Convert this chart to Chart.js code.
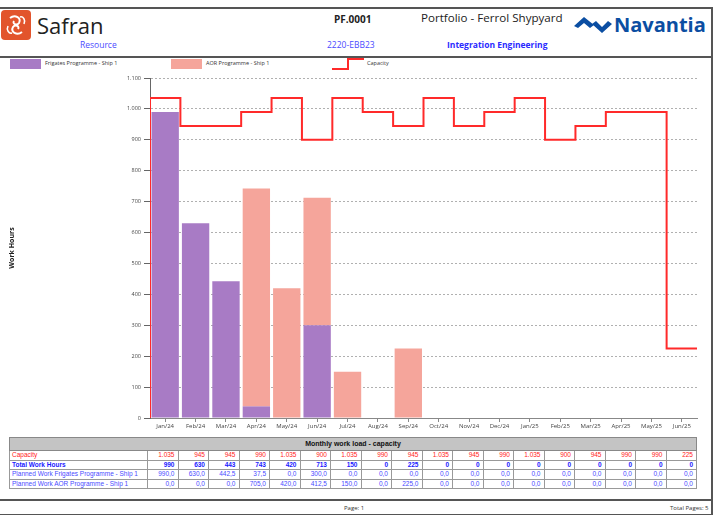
<!DOCTYPE html>
<html>
<head>
<meta charset="utf-8">
<script src="https://cdn.jsdelivr.net/npm/chart.js@4"></script>
<style>
  body { margin: 0; width: 720px; height: 516px; background: #fff; position: relative; overflow: hidden; font-family: "Open Sans", sans-serif; }
  .abs { position: absolute; white-space: nowrap; }
  #header { position: absolute; left: 0; top: 7px; width: 711px; height: 47px; border-top: 2px solid #555; border-bottom: 2px solid #555; border-right: 2px solid #555; }
  #frame { position: absolute; left: 0; top: 56px; width: 711px; height: 443px; border-right: 2px solid #555; border-bottom: 2px solid #555; }
  #footer { position: absolute; left: 0; top: 501px; width: 711px; height: 13px; border-right: 2px solid #555; border-bottom: 1px solid #555; }
  .leg { position: absolute; top: 59px; font-size: 5.5px; color: #333; }
  .sw { position: absolute; width: 31px; height: 10px; }
  #chartBox { position: absolute; left: 0; top: 70px; width: 713px; height: 364px; }
  table { position: absolute; left: 9px; top: 437px; width: 688px; border-collapse: collapse; table-layout: fixed; font-family: "Liberation Sans", Arial, sans-serif; font-size: 6.5px; }
  td { border: 1px solid #999; padding: 0 3px; height: 8.5px; line-height: 8.5px; text-align: right; overflow: hidden; white-space: nowrap; }
  td.lbl { text-align: left; padding-left: 2px; }
  tr.head td { background: #c4c4c4; text-align: center; font-weight: bold; font-size: 7px; color: #111; height: 12px; border-color: #888; }
  tr.cap td { color: #ff1a1a; }
  tr.tot td { color: #1a1aff; font-weight: bold; }
  tr.fr td, tr.aor td { color: #4a4aff; }
</style>
</head>
<body>
<div id="header"></div>
<div id="frame"></div>
<div id="footer"></div>

<svg class="abs" style="left:1px;top:10px" width="30" height="30" viewBox="0 0 30 30">
  <rect x="0" y="0" width="30" height="30" rx="4" fill="#e2542c"/>
  <path d="M9 8 C14 4 21 8 18 13 C16 16 11 14 13 11" stroke="#fff" stroke-width="2" fill="none"/>
  <path d="M21 22 C16 26 9 22 12 17 C14 14 19 16 17 19" stroke="#fff" stroke-width="2" fill="none"/>
  <path d="M7 16 C5 20 8 24 11 23" stroke="#fff" stroke-width="1.6" fill="none"/>
  <path d="M23 14 C25 10 22 6 19 7" stroke="#fff" stroke-width="1.6" fill="none"/>
</svg>
<div class="abs" style="left:37px;top:10px;font-size:22px;color:#222;">Safran</div>
<div class="abs" style="left:80px;top:39px;font-size:8.5px;color:#4b4bff;">Resource</div>
<div class="abs" style="left:334px;top:12px;font-size:10px;font-weight:bold;color:#222;">PF.0001</div>
<div class="abs" style="left:327px;top:39px;font-size:8.5px;color:#4b4bff;">2220-EBB23</div>
<div class="abs" style="left:421px;top:10px;font-size:11.6px;color:#222;">Portfolio - Ferrol Shypyard</div>
<div class="abs" style="left:447px;top:39px;font-size:8.5px;font-weight:bold;color:#2a2aff;">Integration Engineering</div>
<svg class="abs" style="left:573px;top:14px" width="40" height="22" viewBox="0 0 40 22">
  <path d="M1 12 L11 3 L21 11 L17 14 L11 9 L5 14 Z" fill="#0b4ea2"/>
  <path d="M19 10 L29 19 L39 10 L35 7 L29 13 L23 7 Z" fill="#0b4ea2"/>
</svg>
<div class="abs" style="left:614px;top:11px;font-size:20px;font-weight:bold;color:#0b4ea2;">Navantia</div>

<div class="sw" style="left:10px;top:59px;background:#a87bc5;"></div>
<div class="leg" style="left:45px;">Frigates Programme - Ship 1</div>
<div class="sw" style="left:171px;top:59px;background:#f5a59b;"></div>
<div class="leg" style="left:206px;">AOR Programme - Ship 1</div>
<svg class="abs" style="left:332px;top:58px" width="32" height="12" viewBox="0 0 32 12">
  <path d="M0 11 L16 11 L16 1 L32 1" stroke="#ff2a2a" stroke-width="2" fill="none"/>
</svg>
<div class="leg" style="left:367px;">Capacity</div>

<div id="chartBox"><canvas id="workChart"></canvas></div>

<table id="tbl"></table>

<div class="abs" style="left:344px;top:504px;font-size:6px;color:#333;">Page: 1</div>
<div class="abs" style="left:670px;top:504px;font-size:6px;color:#333;">Total Pages: 5</div>

<script>
const months = ['Jan/24','Feb/24','Mar/24','Apr/24','May/24','Jun/24','Jul/24','Aug/24','Sep/24','Oct/24','Nov/24','Dec/24','Jan/25','Feb/25','Mar/25','Apr/25','May/25','Jun/25'];
const frigates = [990, 630, 442.5, 37.5, 0, 300, 0, 0, 0, 0, 0, 0, 0, 0, 0, 0, 0, 0];
const aor = [0, 0, 0, 705, 420, 412.5, 150, 0, 225, 0, 0, 0, 0, 0, 0, 0, 0, 0];
const capacity = [1035, 945, 945, 990, 1035, 900, 1035, 990, 945, 1035, 945, 990, 1035, 900, 945, 990, 990, 225];

function thousands(n) {
  const s = String(Math.round(n));
  return s.length > 3 ? s.slice(0, -3) + '.' + s.slice(-3) : s;
}
function dec1(n) {
  return n.toFixed(1).replace('.', ',');
}

// one linear x axis: month i spans [i, i+1], bars sit in the middle,
// capacity steps run edge to edge like in the report
const atMid = arr => arr.map((v, i) => ({ x: i + 0.5, y: v }));
const capPoints = [{ x: 0, y: 0 }];
capacity.forEach((c, i) => capPoints.push({ x: i, y: c }));
capPoints.push({ x: capacity.length, y: capacity[capacity.length - 1] });

const ctx = document.getElementById('workChart').getContext('2d');
new Chart(ctx, {
  data: {
    datasets: [
      { type: 'bar', label: 'Frigates Programme - Ship 1', data: atMid(frigates), backgroundColor: '#a87bc5',
        barPercentage: 0.9, categoryPercentage: 1, order: 1 },
      { type: 'bar', label: 'AOR Programme - Ship 1', data: atMid(aor), backgroundColor: '#f5a59b',
        barPercentage: 0.9, categoryPercentage: 1, order: 1 },
      { type: 'line', label: 'Capacity', data: capPoints,
        borderColor: '#ff2a2a', borderWidth: 2, stepped: true, pointRadius: 0, fill: false, order: 0 }
    ]
  },
  options: {
    responsive: true,
    maintainAspectRatio: false,
    animation: false,
    layout: { padding: { top: 8, right: 16, left: 0, bottom: 0 } },
    plugins: { legend: { display: false }, tooltip: { enabled: false } },
    scales: {
      x: {
        type: 'linear',
        stacked: true,
        offset: false,
        min: 0, max: months.length,
        afterBuildTicks: s => { s.ticks = months.map((m, i) => ({ value: i + 0.5 })); },
        grid: { drawOnChartArea: false, tickLength: 4, color: '#888', offset: false },
        border: { color: '#888' },
        ticks: { font: { size: 6, family: 'Open Sans' }, color: '#444', maxRotation: 0, padding: 1, autoSkip: false,
          callback: (v, i) => months[i] },
        afterFit: s => { s.height = 16; }
      },
      y: {
        stacked: true,
        min: 0, max: 1100,
        ticks: { stepSize: 100, font: { size: 5.5, family: 'Open Sans' }, color: '#444', padding: 3,
          callback: v => thousands(v) },
        grid: { color: '#b0b0b0', tickLength: 6, tickColor: '#666', tickBorderDash: [] },
        border: { color: '#666', dash: [2, 2] },
        title: { display: true, text: 'Work Hours', font: { size: 7, weight: 'bold', family: 'Open Sans' }, color: '#222', padding: { top: 8, bottom: 0 } },
        afterFit: s => { s.width = 150; }
      }
    }
  }
});

// data table under the chart
const tbl = document.getElementById('tbl');
let html = '<colgroup><col style="width:138px">' + months.map(() => '<col>').join('') + '</colgroup>';
html += '<tr class="head"><td colspan="' + (months.length + 1) + '">Monthly work load - capacity</td></tr>';
html += '<tr class="cap"><td class="lbl">Capacity</td>' + capacity.map(v => '<td>' + thousands(v) + '</td>').join('') + '</tr>';
html += '<tr class="tot"><td class="lbl">Total Work Hours</td>' + frigates.map((v, i) => '<td>' + thousands(v + aor[i]) + '</td>').join('') + '</tr>';
html += '<tr class="fr"><td class="lbl">Planned Work Frigates Programme - Ship 1</td>' + frigates.map(v => '<td>' + dec1(v) + '</td>').join('') + '</tr>';
html += '<tr class="aor"><td class="lbl">Planned Work AOR Programme - Ship 1</td>' + aor.map(v => '<td>' + dec1(v) + '</td>').join('') + '</tr>';
tbl.innerHTML = html;
</script>
</body>
</html>
